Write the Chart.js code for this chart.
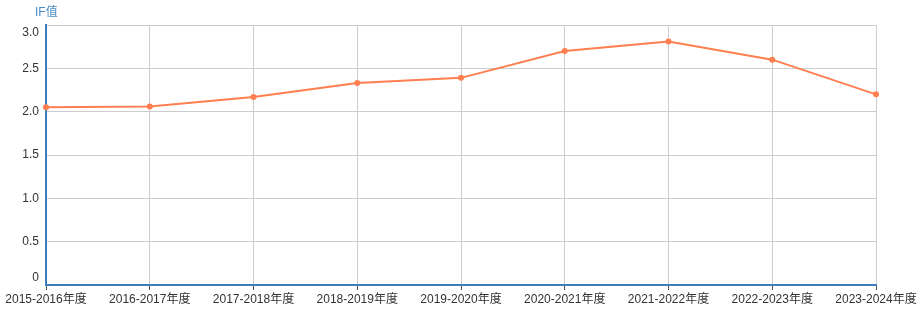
<!DOCTYPE html>
<html>
<head>
<meta charset="utf-8">
<script src="https://cdn.jsdelivr.net/npm/chart.js@4/dist/chart.umd.min.js"></script>
<style>
  body { margin: 0; background: #fff; }
  #wrap { width: 921px; height: 324px; }
</style>
</head>
<body>
<div id="wrap"><canvas id="myChart" width="921" height="324"></canvas></div>
<script>
// 年度
var years = ['2015-2016年度', '2016-2017年度', '2017-2018年度', '2018-2019年度',
             '2019-2020年度', '2020-2021年度', '2021-2022年度', '2022-2023年度', '2023-2024年度'];
// IF值
var ifValues = [2.05, 2.06, 2.17, 2.33, 2.39, 2.70, 2.81, 2.60, 2.20];
var yTicks = [0, 0.5, 1.0, 1.5, 2.0, 2.5, 3.0];

var axisBlue = '#3d7fbd';
var fontFamily = '"Liberation Sans", "Noto Sans CJK SC", sans-serif';

// 축 제목 그리기
var axisTitle = {
  id: 'axisTitle',
  afterDraw: function(chart) {
    var c = chart.ctx;
    c.save();
    c.fillStyle = '#4a8cc6';
    c.font = '12px ' + fontFamily;
    c.textAlign = 'left';
    c.textBaseline = 'middle';
    c.fillText('IF值', 35, 13);
    c.restore();
  }
};

var ctx = document.getElementById('myChart');
new Chart(ctx, {
  type: 'line',
  data: {
    labels: years,
    datasets: [{
      data: ifValues,
      borderColor: '#ff7f50',
      backgroundColor: '#ff7f50',
      borderWidth: 2,
      pointRadius: 3,
      pointBorderWidth: 0,
      pointBackgroundColor: '#ff7f50',
      tension: 0,
      fill: false
    }]
  },
  options: {
    responsive: false,
    animation: false,
    events: [],
    layout: { padding: { top: 25, right: 45, left: 0, bottom: 0 } },
    plugins: { legend: { display: false }, tooltip: { enabled: false } },
    scales: {
      x: {
        offset: false,
        afterFit: function(s) { s.height = 39; },
        grid: { color: '#cccccc', lineWidth: 1, drawTicks: true, tickLength: 5, tickColor: '#555' },
        border: { color: axisBlue, width: 2 },
        ticks: {
          color: '#333', autoSkip: false, maxRotation: 0, padding: 2,
          font: { size: 12, family: fontFamily }
        }
      },
      y: {
        min: 0, max: 3,
        afterFit: function(s) { s.width = 46; },
        afterBuildTicks: function(s) { s.ticks = yTicks.map(function(v) { return { value: v }; }); },
        grid: { color: '#cccccc', lineWidth: 1, drawTicks: false },
        border: { color: axisBlue, width: 2 },
        ticks: {
          color: '#333', padding: 7,
          font: { size: 12, family: fontFamily },
          // 양 끝 라벨은 안쪽으로 밀어줌
          callback: function(v) {
            if (v === 0) return ['0', ''];
            if (v === 3) return ['', '3.0'];
            return v.toFixed(1);
          }
        }
      }
    }
  },
  plugins: [axisTitle]
});
</script>
</body>
</html>
